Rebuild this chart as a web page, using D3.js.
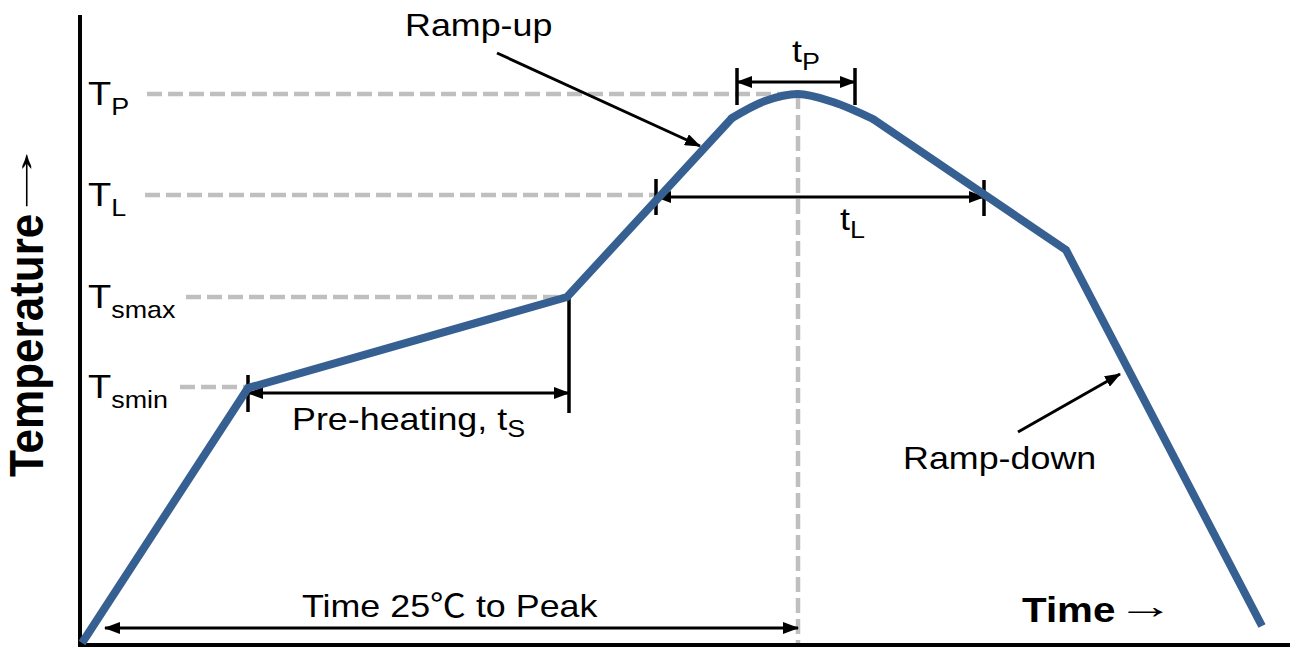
<!DOCTYPE html>
<html>
<head>
<meta charset="utf-8">
<script src="https://cdn.jsdelivr.net/npm/d3@7"></script>
<style>
  body { margin: 0; background: #fff; }
  text { font-family: "Liberation Sans", Arial, "Noto Sans CJK SC", sans-serif; fill: #000; }
</style>
</head>
<body>
<div class="chart"></div>
<script>
// profile curve (time units, temperature units)
var profileTime = [2, 168, 487, 652, 685, 718, 753, 793, 986, 1182];
var profileTemp = [2, 257, 348, 527, 544, 551, 543, 526, 395, 19];

// reference temperature levels
var levelNames = ["P", "L", "smax", "smin"];
var levelTemps = [551, 450, 348, 258];
var levelStart = [67, 65, 106, 100];
var levelEnd = [718, 576, 487, 168];

// dimension arrows
var spanNames = ["preheat", "tp", "tl", "peak"];
var spanFrom = [168, 657, 576, 25];
var spanTo = [489, 775, 904, 718];
var spanTemp = [252, 563, 448, 17];

var width = 1297, height = 648;
var SX = 1.12; // text is a bit wide in the picture

var svg = d3.select(".chart").append("svg")
    .attr("width", width)
    .attr("height", height);

var x = d3.scaleLinear().domain([0, 1210]).range([80, 1290]);
var y = d3.scaleLinear().domain([0, 630]).range([645, 15]);

var defs = svg.append("defs");
defs.append("marker")
    .attr("id", "head")
    .attr("markerUnits", "userSpaceOnUse")
    .attr("viewBox", "0 0 16 12")
    .attr("markerWidth", 16)
    .attr("markerHeight", 12)
    .attr("refX", 15)
    .attr("refY", 6)
    .attr("orient", "auto-start-reverse")
    .append("path")
    .attr("d", "M0,0 L16,6 L0,12 Z")
    .attr("fill", "#000");

function label(xp, yp, size, parts, weight) {
    var t = svg.append("text")
        .attr("transform", "translate(" + xp + "," + yp + ") scale(" + SX + ",1)")
        .style("font-size", size + "px")
        .style("font-weight", weight || "normal");
    parts.forEach(function(p) {
        var s = t.append("tspan").text(p.text);
        if (p.size) s.style("font-size", p.size + "px");
        if (p.dy) s.attr("dy", p.dy);
        if (p.weight) s.style("font-weight", p.weight);
    });
    return t;
}

// dashed level lines
levelTemps.forEach(function(T, i) {
    svg.append("line")
        .attr("x1", x(levelStart[i])).attr("x2", x(levelEnd[i]))
        .attr("y1", y(T)).attr("y2", y(T))
        .attr("stroke", "#bfbfbf")
        .attr("stroke-width", 4.5)
        .attr("stroke-dasharray", "15,6");
    label(x(8), y(T) + 11, 34, [{text: "T"}, {text: levelNames[i], size: 24, dy: 10}]);
});

// vertical dashed at peak
svg.append("line")
    .attr("x1", x(718)).attr("x2", x(718))
    .attr("y1", y(551)).attr("y2", y(0))
    .attr("stroke", "#bfbfbf")
    .attr("stroke-width", 4.5)
    .attr("stroke-dasharray", "15,6");

// axes
svg.append("line")
    .attr("x1", x(0)).attr("x2", x(0))
    .attr("y1", y(630)).attr("y2", y(-2))
    .attr("stroke", "#000").attr("stroke-width", 4);
svg.append("line")
    .attr("x1", x(-2)).attr("x2", x(1210))
    .attr("y1", y(0)).attr("y2", y(0))
    .attr("stroke", "#000").attr("stroke-width", 4);

// end bars of dimension arrows
var bars = [
    [168, 233, 270], [489, 232, 348],
    [657, 540, 577], [775, 540, 577],
    [576, 430, 466], [904, 429, 465]
];
bars.forEach(function(b) {
    svg.append("line")
        .attr("x1", x(b[0])).attr("x2", x(b[0]))
        .attr("y1", y(b[1])).attr("y2", y(b[2]))
        .attr("stroke", "#000").attr("stroke-width", 3.5);
});

// dimension arrows
spanNames.forEach(function(n, i) {
    svg.append("line")
        .attr("class", "span-" + n)
        .attr("x1", x(spanFrom[i])).attr("x2", x(spanTo[i]))
        .attr("y1", y(spanTemp[i])).attr("y2", y(spanTemp[i]))
        .attr("stroke", "#000").attr("stroke-width", 3)
        .attr("marker-start", "url(#head)")
        .attr("marker-end", "url(#head)");
});

// pointer arrows
var pointers = [[417, 592, 620, 499], [938, 213, 1040, 271]];
pointers.forEach(function(p) {
    svg.append("line")
        .attr("x1", x(p[0])).attr("y1", y(p[1]))
        .attr("x2", x(p[2])).attr("y2", y(p[3]))
        .attr("stroke", "#000").attr("stroke-width", 3)
        .attr("marker-end", "url(#head)");
});

// profile curve: straight ramps, rounded top
var idx = d3.range(profileTime.length);
var line = d3.line()
    .x(function(i) { return x(profileTime[i]); })
    .y(function(i) { return y(profileTemp[i]); });
var smooth = d3.line()
    .curve(d3.curveCatmullRom)
    .x(function(i) { return x(profileTime[i]); })
    .y(function(i) { return y(profileTemp[i]); });

[idx.slice(0, 4), idx.slice(7)].forEach(function(seg) {
    svg.append("path")
        .datum(seg)
        .attr("d", line)
        .attr("fill", "none")
        .attr("stroke", "#376092")
        .attr("stroke-width", 8)
        .attr("stroke-linejoin", "miter");
});
svg.append("path")
    .datum(idx.slice(3, 8))
    .attr("d", smooth)
    .attr("fill", "none")
    .attr("stroke", "#376092")
    .attr("stroke-width", 8)
    .attr("stroke-linecap", "round");

// labels
label(405, 36, 32, [{text: "Ramp-up"}]);
label(903, 469, 32, [{text: "Ramp-down"}]);
label(292, 430, 32, [{text: "Pre-heating, t"}, {text: "S", size: 24, dy: 7}]);
label(792, 62, 32, [{text: "t"}, {text: "P", size: 24, dy: 8}]);
label(840, 230, 32, [{text: "t"}, {text: "L", size: 24, dy: 8}]);
label(302, 617, 32, [{text: "Time 25\u2103 to Peak"}]);
label(1022, 622, 36, [{text: "Time"}], "bold");

// long thin arrows after the axis titles
svg.append("text")
    .attr("transform", "translate(1117,618) scale(1.6,1)")
    .style("font-size", "36px")
    .text("\u2192");

svg.append("text")
    .attr("transform", "translate(43,477) scale(1.1,1) rotate(-90)")
    .style("font-size", "44px")
    .style("font-weight", "bold")
    .text("Temperature");

svg.append("text")
    .attr("transform", "translate(33,224) rotate(-90) scale(2.3,1)")
    .style("font-size", "38px")
    .text("\u2192");
</script>
</body>
</html>
